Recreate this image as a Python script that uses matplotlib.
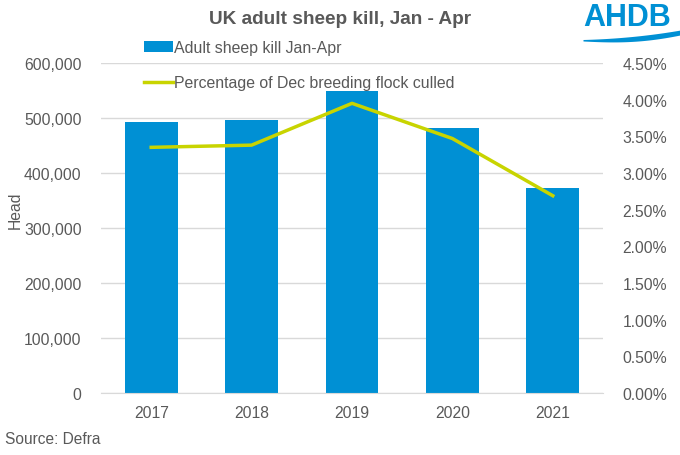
import numpy as np
import matplotlib.pyplot as plt
from matplotlib.ticker import FuncFormatter

plt.rcParams['font.family'] = ['Liberation Sans', 'DejaVu Sans']

years = ["2017", "2018", "2019", "2020", "2021"]
sheep_kill = [492000, 496000, 549000, 481000, 372000]
pct_culled = [3.35, 3.38, 3.95, 3.47, 2.69]

bar_col = "#0090D4"
line_col = "#C8D400"
txt_col = "#595959"

fig = plt.figure(figsize=(6.8, 4.56), dpi=100)
ax = fig.add_axes([101 / 680, 1 - 394 / 456, 502 / 680, 330 / 456])
x = np.arange(len(years))
bars = ax.bar(x, sheep_kill, width=0.525, color=bar_col, zorder=2)
ax.set_ylim(0, 600000)
ax.set_xlim(-0.5, len(years) - 0.5)
ax.set_yticks(np.arange(0, 600001, 100000))
ax.yaxis.set_major_formatter(FuncFormatter(lambda v, p: f"{int(v):,}"))
ax.set_xticks(x)
ax.set_xticklabels(years)
ax.grid(axis="y", color="#D9D9D9", lw=1, zorder=0)
for s in ["top", "right", "left"]:
    ax.spines[s].set_visible(False)
ax.spines["bottom"].set_color("#D9D9D9")
ax.tick_params(axis="both", length=0, colors=txt_col, labelsize=11.3)
ax.tick_params(axis="y", pad=14)
ax.tick_params(axis="x", pad=9)
fig.text(15.5 / 680, 1 - 210 / 456, "Head", rotation=90, ha="center", va="center",
         color=txt_col, fontsize=11.3)

ax2 = ax.twinx()
line, = ax2.plot(x, pct_culled, color=line_col, lw=2.5, zorder=3)
ax2.set_ylim(0, 4.5)
ax2.set_yticks(np.arange(0, 4.51, 0.5))
ax2.yaxis.set_major_formatter(FuncFormatter(lambda v, p: f"{v:.2f}%"))
for s in ["top", "right", "left", "bottom"]:
    ax2.spines[s].set_visible(False)
ax2.tick_params(axis="y", length=0, colors=txt_col, labelsize=11.3, pad=14)

fig.legend([bars, line], ["Adult sheep kill Jan-Apr", "Percentage of Dec breeding flock culled"],
           loc="upper left", bbox_to_anchor=(130 / 680, 1 - 27 / 456), frameon=False,
           fontsize=11.4, labelcolor=txt_col, handlelength=1.8, handletextpad=0.1,
           labelspacing=1.25)

fig.text(340 / 680, 1 - 20 / 456, "UK adult sheep kill, Jan - Apr", ha="center", va="center",
         fontsize=13.7, fontweight="bold", color=txt_col)
fig.text(5 / 680, 1 - 440 / 456, "Source: Defra", ha="left", va="center", fontsize=11.2, color=txt_col)

# logo
fig.text(627 / 680, 1 - 18 / 456, "AHDB", ha="center", va="center", fontsize=22,
         fontweight="bold", color=bar_col)
lax = fig.add_axes([578 / 680, 1 - 46 / 456, 102 / 680, 20 / 456])
wx = np.linspace(583, 680, 100)
u = (wx - 583) / 97
top = 40.5 - 1.5 * np.sin(np.pi * u * 0.6) - 8 * u ** 2.2
bot = 42 + 1.5 * np.sin(np.pi * u) - 6 * u ** 2.5
lax.fill_between(wx, bot, top, color=bar_col, lw=0)
lax.set_xlim(578, 680)
lax.set_ylim(46, 26)
lax.axis("off")

fig.savefig("out.png", dpi=100)
